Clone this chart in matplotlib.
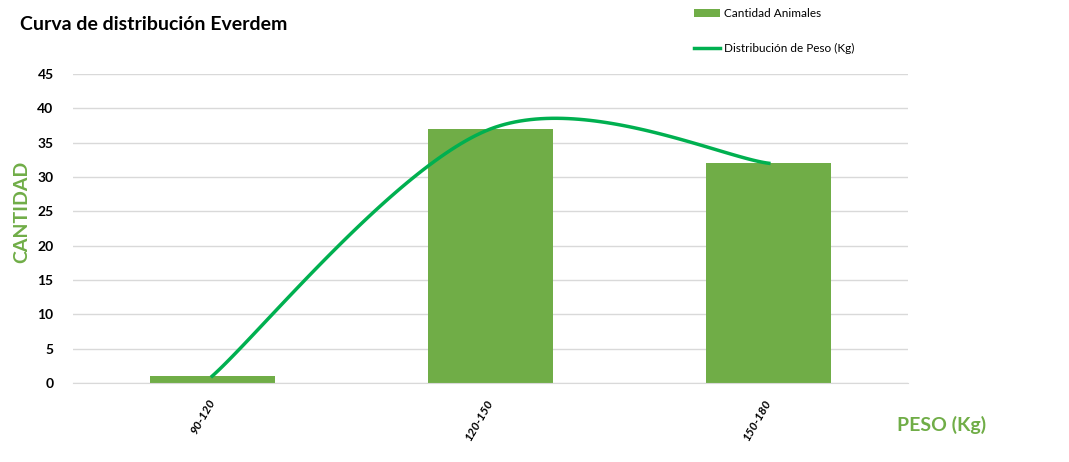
import matplotlib.pyplot as plt
import numpy as np

categorias = ["90-120", "120-150", "150-180"]
cantidad = [1, 37, 32]
distribucion = [1, 37, 32]

VERDE_BARRA = "#70AD47"
VERDE_LINEA = "#00B050"

plt.rcParams['font.family'] = ['Lato', 'DejaVu Sans']


def curva_suave(xs, ys, n=60):
    # suavizado tipo Excel (Bezier con puntos de control a 1/6)
    pts = np.column_stack([xs, ys]).astype(float)
    ext = np.vstack([pts[0], pts, pts[-1]])
    out = []
    t = np.linspace(0, 1, n)[:, None]
    for i in range(1, len(ext) - 2):
        p0, p3 = ext[i], ext[i + 1]
        c1 = p0 + (ext[i + 1] - ext[i - 1]) / 6
        c2 = p3 - (ext[i + 2] - ext[i]) / 6
        seg = ((1 - t) ** 3) * p0 + 3 * t * (1 - t) ** 2 * c1 + 3 * t ** 2 * (1 - t) * c2 + t ** 3 * p3
        out.append(seg)
    curva = np.vstack(out)
    return curva[:, 0], curva[:, 1]


fig = plt.figure(figsize=(10.69, 4.62), dpi=100)
ax = fig.add_axes([73 / 1069, 1 - 383 / 462, (908 - 73) / 1069, (383 - 74) / 462])

x = np.arange(len(categorias))
barras = ax.bar(x, cantidad, width=0.45, color=VERDE_BARRA, label="Cantidad Animales", zorder=2)
cx, cy = curva_suave(x, distribucion)
linea, = ax.plot(cx, cy, color=VERDE_LINEA, lw=2.5, label="Distribución de Peso (Kg)", zorder=3)

ax.set_xlim(-0.5, 2.5)
ax.set_ylim(0, 45)
ax.set_yticks(range(0, 50, 5))
ax.grid(axis='y', color='#D9D9D9', lw=1, zorder=0)
ax.set_axisbelow(True)
for s in ['top', 'right', 'left']:
    ax.spines[s].set_visible(False)
ax.spines['bottom'].set_color('#D9D9D9')
ax.tick_params(length=0)
ax.tick_params(axis='y', pad=14)
for lab in ax.get_yticklabels():
    lab.set_fontweight('bold')
    lab.set_fontsize(10)

ax.set_xticks(x)
ax.set_xticklabels(categorias, rotation=60, ha='right', va='center',
                   rotation_mode='anchor', fontsize=8.5, fontweight='bold', fontstyle='italic')
ax.tick_params(axis='x', pad=12)

fig.text(20 / 1069, 1 - 25 / 462, "Curva de distribución Everdem", fontsize=14,
         fontweight='bold', va='center', ha='left')
fig.text(22 / 1069, 1 - 212 / 462, "CANTIDAD", rotation=90, color=VERDE_BARRA,
         fontsize=14, fontweight='bold', va='center', ha='center')
fig.text(942 / 1069, 1 - 425 / 462, "PESO (Kg)", color=VERDE_BARRA,
         fontsize=14, fontweight='bold', va='center', ha='center')

fig.legend([barras, linea], ["Cantidad Animales", "Distribución de Peso (Kg)"],
           loc='upper left', bbox_to_anchor=(686 / 1069, 1.0), frameon=False,
           fontsize=8.5, handlelength=2.2, handletextpad=0.3, labelspacing=2.0,
           borderaxespad=0.3)

fig.savefig("out.png", dpi=100)
